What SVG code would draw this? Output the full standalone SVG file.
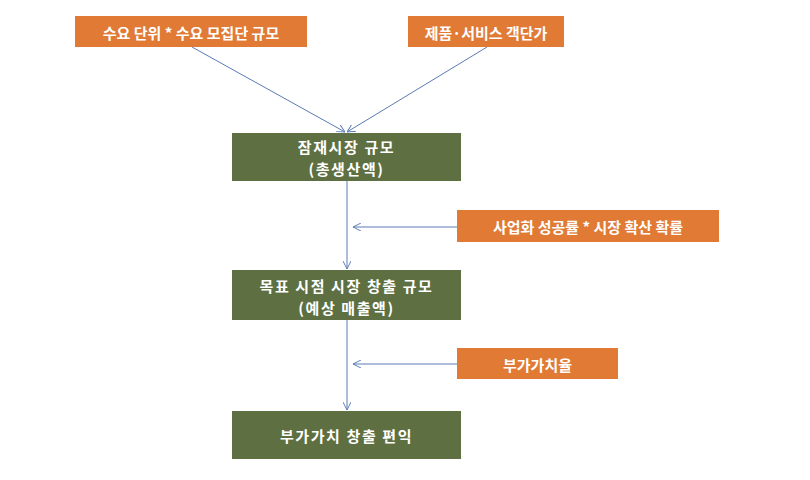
<svg xmlns="http://www.w3.org/2000/svg" width="810" height="480" viewBox="0 0 810 480">
<defs>
<marker id="ah" viewBox="0 0 10 10" refX="10" refY="5" markerWidth="8" markerHeight="8" orient="auto" markerUnits="userSpaceOnUse">
<path d="M0,0 L10,5 L0,10" fill="none" stroke="#5a7bb5" stroke-width="1.2"/>
</marker>
<style>
.o{fill:#e07a35}
.g{fill:#5e7042}
.t{fill:#ffffff;font-family:"Noto Sans CJK KR","Noto Sans",sans-serif;font-weight:bold;text-anchor:middle;dominant-baseline:central}
.ts{font-size:15px}
.tg{font-size:15px;letter-spacing:1.6px}
.c{stroke:#5a7bb5;stroke-width:1;fill:none;marker-end:url(#ah)}
</style>
</defs>
<rect width="810" height="480" fill="#ffffff"/>
<g id="connectors">
<line class="c" x1="192" y1="47" x2="345" y2="132"/>
<line class="c" x1="487" y1="47" x2="347" y2="132"/>
<line class="c" x1="347" y1="181" x2="347" y2="269"/>
<line class="c" x1="457" y1="227" x2="353" y2="227"/>
<line class="c" x1="347" y1="320" x2="347" y2="410"/>
<line class="c" x1="457" y1="364" x2="353" y2="364"/>
</g>
<g id="n1"><rect class="o" x="75" y="16" width="232" height="31"/><text class="t ts" x="191" y="32">수요 단위 * 수요 모집단 규모</text></g>
<g id="n2"><rect class="o" x="408" y="16" width="156" height="31"/><text class="t ts" x="486" y="32">제품·서비스 객단가</text></g>
<g id="n3"><rect class="g" x="232" y="133" width="229" height="48"/><text class="t tg" x="346.5" y="146">잠재시장 규모</text><text class="t tg" x="346.5" y="168">(총생산액)</text></g>
<g id="n4"><rect class="o" x="457" y="210" width="262" height="32"/><text class="t ts" x="588" y="226.5">사업화 성공률 * 시장 확산 확률</text></g>
<g id="n5"><rect class="g" x="232" y="270" width="229" height="50"/><text class="t tg" x="346.5" y="285">목표 시점 시장 창출 규모</text><text class="t tg" x="346.5" y="307">(예상 매출액)</text></g>
<g id="n6"><rect class="o" x="457" y="348" width="161" height="31"/><text class="t ts" x="537.5" y="364">부가가치율</text></g>
<g id="n7"><rect class="g" x="232" y="411" width="229" height="48"/><text class="t tg" x="346.5" y="435">부가가치 창출 편익</text></g>
</svg>
